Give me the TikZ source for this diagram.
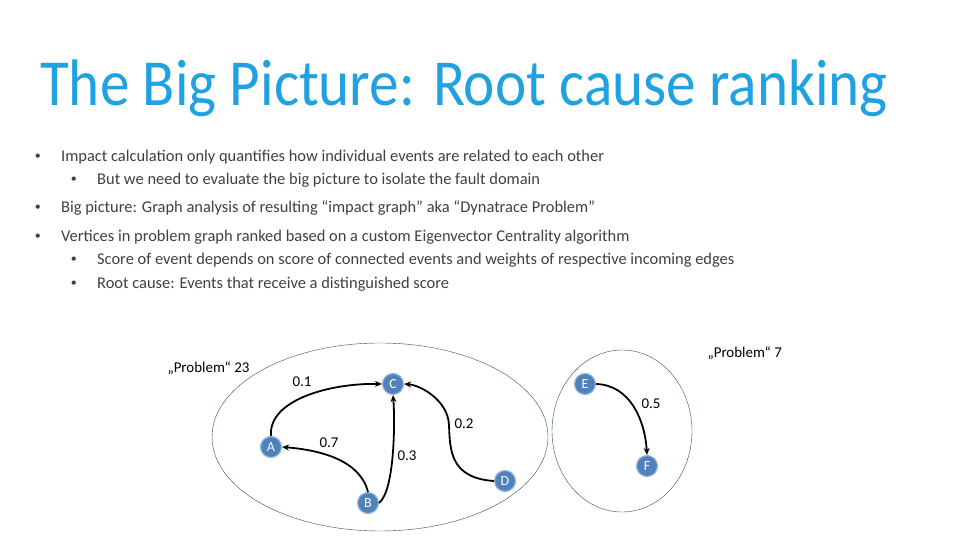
\documentclass[tikz,border=0pt]{standalone}
\usepackage{fontspec}
\setmainfont{Carlito}
\usetikzlibrary{arrows.meta}
\definecolor{ttl}{HTML}{1FA1E2}
\definecolor{nd}{HTML}{4F81BD}
\definecolor{txt}{HTML}{404040}
\tikzset{
 vert/.style={circle,fill=nd,draw=nd!60!white,line width=1.2pt,minimum size=21pt,inner sep=0pt,text=white,font=\fontsize{14}{14}\selectfont},
 edge/.style={line width=1.8pt,-{Stealth[length=7pt,width=6pt]}},
 grp/.style={draw=nd!60!black,line width=0.4pt},
 wt/.style={font=\fontsize{15}{15}\selectfont,text=black},
 bul/.style={anchor=west,font=\fontsize{16.5}{17}\selectfont,text=txt,inner sep=0pt},
 dot/.style={anchor=east,font=\fontsize{12}{12}\selectfont,text=txt,inner sep=0pt}
}
\begin{document}
\begin{tikzpicture}[x=1bp,y=-1bp]
\useasboundingbox (0,0) rectangle (960,540);
\node[anchor=west,text=ttl,font=\fontsize{66}{66}\selectfont,inner sep=0,xscale=0.9] (title) at (40,88) {The Big Picture: Root cause ranking};
\node[bul] (b1) at (61,157) {Impact calculation only quantifies how individual events are related to each other};
\node[bul] (b2) at (97,180) {But we need to evaluate the big picture to isolate the fault domain};
\node[bul] (b3) at (61,208) {Big picture: Graph analysis of resulting “impact graph” aka “Dynatrace Problem”};
\node[bul] (b4) at (61,237) {Vertices in problem graph ranked based on a custom Eigenvector Centrality algorithm};
\node[bul] (b5) at (97,260) {Score of event depends on score of connected events and weights of respective incoming edges};
\node[bul] (b6) at (97,284) {Root cause: Events that receive a distinguished score};
\foreach \b in {b1,b2,b3,b4,b5,b6} \node[dot] at ([xshift=-20bp]\b.west) {\textbullet};
\draw[grp] (380,437) ellipse [x radius=168, y radius=94];
\draw[grp] (622,431) ellipse [x radius=70, y radius=81];
\node[wt,anchor=west] (p23) at (164,368) {„Problem“ 23};
\node[wt,anchor=west] (p7) at (704,353) {„Problem“ 7};
\node[vert] (A) at (271,447) {A};
\node[vert] (B) at (368,503) {B};
\node[vert] (C) at (393,384) {C};
\node[vert] (D) at (505,481) {D};
\node[vert] (E) at (585,384) {E};
\node[vert] (F) at (647,466) {F};
\draw[edge] (A.north) .. controls (268,400) and (330,383) .. (C.west);
\draw[edge] (B.north) .. controls (360,460) and (320,450) .. (A.east);
\draw[edge] (B.east) .. controls (395,490) and (395,420) .. (C.south);
\draw[edge] (D.west) .. controls (450,478) and (450,450) .. (449,425) .. controls (448,400) and (420,385) .. (C.east);
\draw[edge] (E.east) .. controls (630,385) and (645,420) .. (F.north);
\node[wt] (w1) at (302,382) {0.1};
\node[wt] (w7) at (329,443) {0.7};
\node[wt] (w3) at (407,456) {0.3};
\node[wt] (w2) at (464,424) {0.2};
\node[wt] (w5) at (651,404) {0.5};
\end{tikzpicture}
\end{document}
